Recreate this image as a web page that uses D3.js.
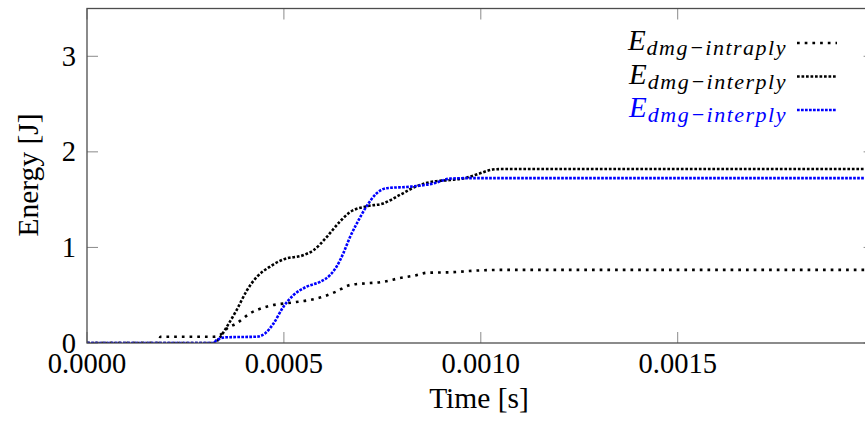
<!DOCTYPE html>
<html>
<head>
<meta charset="utf-8">
<script src="https://cdn.jsdelivr.net/npm/d3@7"></script>
<style>
  body { margin: 0; background: #fff; overflow: hidden; }
  svg text { font-family: "Liberation Serif", serif; fill: #000; }
</style>
</head>
<body>
<div id="main"></div>
<script>
var xTicks = [0, 0.0005, 0.001, 0.0015];
var xTickLabels = ["0.0000", "0.0005", "0.0010", "0.0015"];
var yTicks = [0, 1, 2, 3];

var intraTime = [0, 0.000183, 0.000186, 0.000322, 0.000338, 0.000355, 0.00038, 0.000414, 0.000456, 0.000524, 0.000566, 0.0006, 0.000634, 0.000668, 0.00071, 0.000752, 0.000795, 0.000837, 0.000863, 0.000922, 0.001, 0.00105, 0.002];
var intraEnergy = [0, 0, 0.066, 0.066, 0.084, 0.15, 0.206, 0.31, 0.38, 0.425, 0.45, 0.485, 0.54, 0.607, 0.625, 0.64, 0.68, 0.71, 0.735, 0.74, 0.76, 0.765, 0.765];

var interTime = [0, 0.000322, 0.000338, 0.000355, 0.00038, 0.000406, 0.000431, 0.000465, 0.000499, 0.00055, 0.000575, 0.000609, 0.000642, 0.000668, 0.00071, 0.000752, 0.000795, 0.000837, 0.00088, 0.000922, 0.000964, 0.000998, 0.00103, 0.00105, 0.002];
var interEnergy = [0, 0, 0.06, 0.17, 0.345, 0.55, 0.69, 0.8, 0.875, 0.92, 0.97, 1.11, 1.27, 1.37, 1.43, 1.46, 1.55, 1.64, 1.69, 1.705, 1.73, 1.775, 1.815, 1.82, 1.82];

var blueTime = [0, 0.000322, 0.000329, 0.000355, 0.000431, 0.000452, 0.000473, 0.000499, 0.000524, 0.000558, 0.000592, 0.000617, 0.000634, 0.000651, 0.000668, 0.000685, 0.00071, 0.000735, 0.000761, 0.00082, 0.00088, 0.000922, 0.000964, 0.002];
var blueEnergy = [0, 0, 0.03, 0.06, 0.066, 0.1, 0.2, 0.38, 0.5, 0.59, 0.64, 0.71, 0.8, 0.94, 1.11, 1.25, 1.43, 1.565, 1.62, 1.635, 1.67, 1.72, 1.725, 1.725];

var seriesNames = ["dmg\u2212intraply", "dmg\u2212interply", "dmg\u2212interply"];
var seriesColors = ["#000", "#000", "#0000ff"];
var seriesDash = ["2.7 5", "2.7 1.8", "2.7 1.3"];

var width = 865, height = 423;
var plotLeft = 87, plotRight = 874.6, plotTop = 8.5, plotBottom = 343;

var svg = d3
  .select("#main")
  .append("svg")
  .attr("width", width)
  .attr("height", height);

var x = d3.scaleLinear().domain([0, 0.002]).range([plotLeft, plotRight]);
var y = d3.scaleLinear().domain([0, 3.5]).range([plotBottom, plotTop]);

var series = [
  d3.zip(intraTime, intraEnergy),
  d3.zip(interTime, interEnergy),
  d3.zip(blueTime, blueEnergy)
];

var line = d3
  .line()
  .x(function(d) { return x(d[0]); })
  .y(function(d) { return y(d[1]); })
  .curve(d3.curveMonotoneX);

svg
  .append("clipPath")
  .attr("id", "plot")
  .append("rect")
  .attr("x", plotLeft)
  .attr("y", plotTop)
  .attr("width", plotRight - plotLeft)
  .attr("height", plotBottom - plotTop);

// ticks, inward on all four sides
var tickLen = 11;
var ticks = svg.append("g").style("stroke", "#8a8a8a").style("stroke-width", 1);
xTicks.forEach(function(t) {
  ticks.append("line").attr("x1", x(t)).attr("x2", x(t)).attr("y1", plotBottom).attr("y2", plotBottom - tickLen);
  ticks.append("line").attr("x1", x(t)).attr("x2", x(t)).attr("y1", plotTop).attr("y2", plotTop + tickLen);
});
yTicks.forEach(function(v) {
  ticks.append("line").attr("x1", plotLeft).attr("x2", plotLeft + tickLen).attr("y1", y(v)).attr("y2", y(v));
  ticks.append("line").attr("x1", plotRight).attr("x2", plotRight - tickLen).attr("y1", y(v)).attr("y2", y(v));
});

svg
  .append("g")
  .attr("clip-path", "url(#plot)")
  .selectAll("path")
  .data(series)
  .enter()
  .append("path")
  .attr("d", line)
  .style("fill", "none")
  .style("stroke", function(d, i) { return seriesColors[i]; })
  .style("stroke-width", 2.6)
  .style("stroke-dasharray", function(d, i) { return seriesDash[i]; });

svg
  .append("rect")
  .attr("x", plotLeft)
  .attr("y", plotTop)
  .attr("width", plotRight - plotLeft)
  .attr("height", plotBottom - plotTop)
  .style("fill", "none")
  .style("stroke", "#4d4d4d")
  .style("stroke-width", 1.3);

svg
  .selectAll(".xlab")
  .data(xTicks)
  .enter()
  .append("text")
  .attr("x", function(d) { return x(d); })
  .attr("y", 373)
  .style("text-anchor", "middle")
  .style("font-size", "28.5px")
  .text(function(d, i) { return xTickLabels[i]; });

svg
  .selectAll(".ylab")
  .data(yTicks)
  .enter()
  .append("text")
  .attr("x", 76)
  .attr("y", function(d) { return y(d) + 9.5; })
  .style("text-anchor", "end")
  .style("font-size", "28.5px")
  .text(function(d) { return d; });

svg
  .append("text")
  .attr("x", 479)
  .attr("y", 408)
  .style("text-anchor", "middle")
  .style("font-size", "29.5px")
  .text("Time [s]");

svg
  .append("text")
  .attr("transform", "translate(38,175) rotate(-90)")
  .style("text-anchor", "middle")
  .style("font-size", "29.5px")
  .text("Energy [J]");

// legend
var legend = svg
  .selectAll(".legend")
  .data(seriesNames)
  .enter()
  .append("g")
  .attr("transform", function(d, i) { return "translate(0," + (50 + i * 33.5) + ")"; });

var label = legend
  .append("text")
  .attr("x", 787)
  .attr("y", 0)
  .style("text-anchor", "end")
  .style("font-style", "italic")
  .style("fill", function(d, i) { return seriesColors[i]; });

label.append("tspan").style("font-size", "29px").text("E");
label
  .append("tspan")
  .attr("dx", 1)
  .attr("dy", 5)
  .style("font-size", "22px")
  .style("letter-spacing", "1.5px")
  .text(function(d) { return d; });

legend
  .append("line")
  .attr("x1", 797)
  .attr("x2", 837)
  .attr("y1", -7)
  .attr("y2", -7)
  .style("stroke", function(d, i) { return seriesColors[i]; })
  .style("stroke-width", 2.6)
  .style("stroke-dasharray", function(d, i) { return seriesDash[i]; });
</script>
</body>
</html>
